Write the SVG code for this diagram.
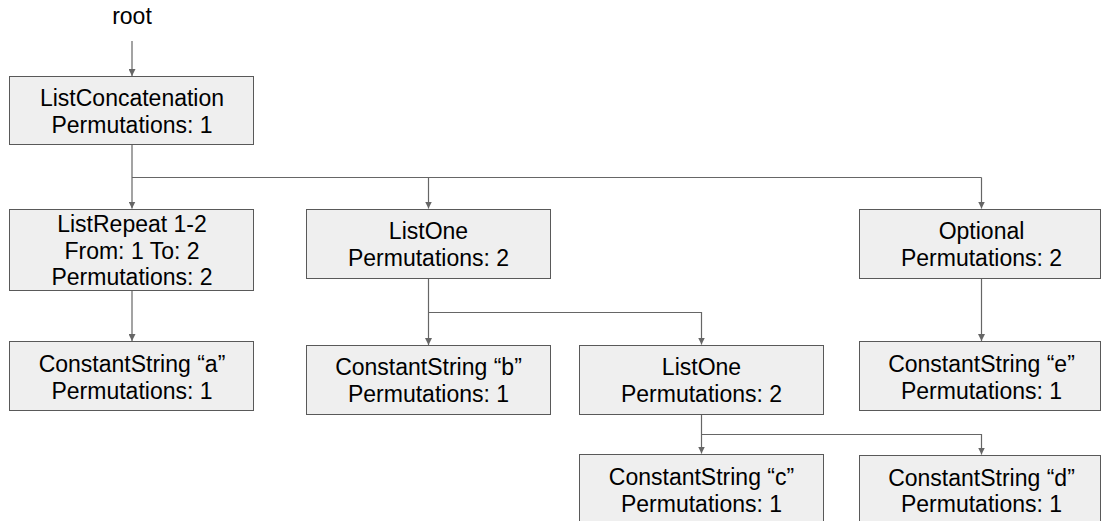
<svg xmlns="http://www.w3.org/2000/svg" width="1101" height="521" viewBox="0 0 1101 521">
  <style>
    .box { fill: #efefef; stroke: #595959; stroke-width: 1; }
    .lbl { font-family: "Liberation Sans", Arial, sans-serif; font-size: 23px; fill: #000; text-anchor: middle; }
    .wire { fill: none; stroke: #666666; stroke-width: 1.2; }
  </style>
  <defs>
    <marker id="arrow" viewBox="0 0 8 8" refX="8" refY="4" markerWidth="7" markerHeight="7" markerUnits="userSpaceOnUse" orient="auto">
      <path d="M0,0 L8,4 L0,8 z" fill="#666666"/>
    </marker>
  </defs>

  <g id="connectors">
    <path class="wire" d="M132,41 V76" marker-end="url(#arrow)"/>
    <path class="wire" d="M132,145 V208.5" marker-end="url(#arrow)"/>
    <path class="wire" d="M132,177.5 H981.5"/>
    <path class="wire" d="M428.5,177.5 V208.5" marker-end="url(#arrow)"/>
    <path class="wire" d="M981.5,177.5 V208.5" marker-end="url(#arrow)"/>
    <path class="wire" d="M132,291 V341" marker-end="url(#arrow)"/>
    <path class="wire" d="M428.5,278 V345" marker-end="url(#arrow)"/>
    <path class="wire" d="M428.5,312.5 H701.5 V344.5" marker-end="url(#arrow)"/>
    <path class="wire" d="M981.5,278 V341" marker-end="url(#arrow)"/>
    <path class="wire" d="M701.5,414 V453.5" marker-end="url(#arrow)"/>
    <path class="wire" d="M701.5,434.5 H981.5 V454.5" marker-end="url(#arrow)"/>
  </g>

  <g id="root">
    <text class="lbl" x="132" y="24">root</text>
  </g>

  <g id="list-concatenation">
    <rect class="box" x="9.5" y="76.5" width="244" height="68"/>
    <text class="lbl" x="132" y="106">ListConcatenation</text>
    <text class="lbl" x="132" y="133">Permutations: 1</text>
  </g>

  <g id="list-repeat">
    <rect class="box" x="9.5" y="209.5" width="244" height="81"/>
    <text class="lbl" x="132" y="232">ListRepeat 1-2</text>
    <text class="lbl" x="132" y="258.5">From: 1 To: 2</text>
    <text class="lbl" x="132" y="285">Permutations: 2</text>
  </g>

  <g id="list-one-outer">
    <rect class="box" x="306.5" y="209.5" width="244" height="69"/>
    <text class="lbl" x="428.5" y="239">ListOne</text>
    <text class="lbl" x="428.5" y="266">Permutations: 2</text>
  </g>

  <g id="optional">
    <rect class="box" x="859.5" y="209.5" width="241" height="69"/>
    <text class="lbl" x="981.5" y="239">Optional</text>
    <text class="lbl" x="981.5" y="266">Permutations: 2</text>
  </g>

  <g id="constant-a">
    <rect class="box" x="9.5" y="341.5" width="244" height="69"/>
    <text class="lbl" x="132" y="371.5">ConstantString “a”</text>
    <text class="lbl" x="132" y="398.5">Permutations: 1</text>
  </g>

  <g id="constant-b">
    <rect class="box" x="306.5" y="345.5" width="244" height="69"/>
    <text class="lbl" x="428.5" y="375">ConstantString “b”</text>
    <text class="lbl" x="428.5" y="402">Permutations: 1</text>
  </g>

  <g id="list-one-inner">
    <rect class="box" x="579.5" y="345.5" width="244" height="69"/>
    <text class="lbl" x="701.5" y="374.5">ListOne</text>
    <text class="lbl" x="701.5" y="401.5">Permutations: 2</text>
  </g>

  <g id="constant-e">
    <rect class="box" x="859.5" y="341.5" width="241" height="69"/>
    <text class="lbl" x="981.5" y="371.5">ConstantString “e”</text>
    <text class="lbl" x="981.5" y="398.5">Permutations: 1</text>
  </g>

  <g id="constant-c">
    <rect class="box" x="579.5" y="454.5" width="244" height="75"/>
    <text class="lbl" x="701.5" y="485">ConstantString “c”</text>
    <text class="lbl" x="701.5" y="511.5">Permutations: 1</text>
  </g>

  <g id="constant-d">
    <rect class="box" x="859.5" y="455.5" width="241" height="75"/>
    <text class="lbl" x="981.5" y="485.5">ConstantString “d”</text>
    <text class="lbl" x="981.5" y="512">Permutations: 1</text>
  </g>
</svg>
